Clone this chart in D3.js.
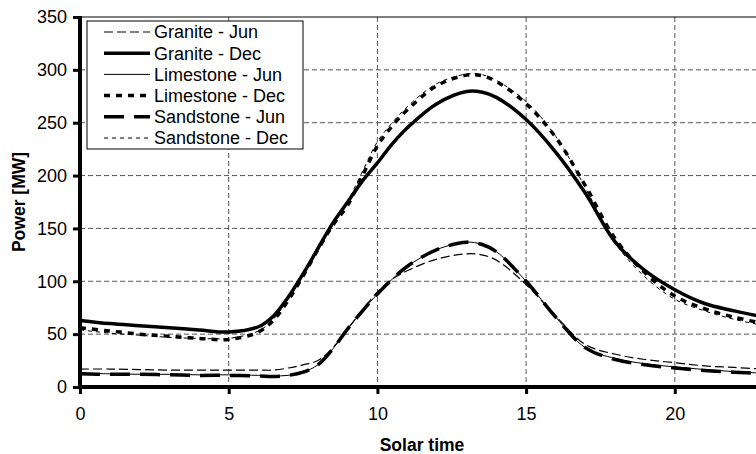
<!DOCTYPE html>
<html>
<head>
<meta charset="utf-8">
<script src="https://cdn.jsdelivr.net/npm/d3@7"></script>
<style>
  body { margin: 0; background: #fff; }
  svg { display: block; font-family: Arial, "Liberation Sans", sans-serif; }
</style>
</head>
<body>
<script>
// solar time (h)
var hours = [0, 1, 2, 3, 4, 5, 6, 6.5, 7, 7.5, 8, 8.5, 9, 9.5, 10, 10.5, 11, 12, 13, 13.5, 14, 15, 16, 17, 18, 19, 20, 21, 22, 23]

// power [MW]
var graniteJun    = [17, 17, 16.5, 16, 16, 16, 16, 16, 18, 21, 25, 37, 55, 73, 90, 102, 110, 121, 126, 125, 120, 97, 67, 40, 31, 26, 23, 20, 18.5, 17]
var graniteDec    = [63, 60, 58, 56, 54, 52, 57, 67, 85, 107, 131, 155, 175, 195, 212, 230, 245, 268, 279.5, 279, 274, 253, 222, 183, 137, 110, 92, 79, 72, 66]
var limestoneJun  = [13, 12.5, 12, 12, 11.5, 11.5, 11, 10.5, 11, 14, 21, 36, 55, 72, 88, 102, 114, 130, 137, 135, 128, 100, 66, 37, 27, 22, 19, 16.5, 14.5, 13]
var limestoneDec  = [56, 53, 50, 48, 46, 45, 52, 63, 82, 105, 130, 153, 172, 200, 228, 247, 262, 285, 295, 294.5, 289, 268, 236, 190, 140, 108, 86, 74, 66, 60]
var sandstoneJun  = [12.5, 12, 12, 11.5, 11, 11, 10.5, 10, 11, 14, 21, 36, 55, 72, 88, 102, 114, 130, 137, 135, 128, 100, 66, 37, 26, 21, 18, 15.5, 14, 12.5]
var sandstoneDec  = [54, 51, 49, 47, 46, 46, 53, 64, 84, 107, 133, 155, 176, 204, 232, 250, 265, 287, 296, 295.5, 290, 270, 237, 188, 136, 104, 83, 72, 64, 58]

var seriesNames = ['Granite - Jun', 'Granite - Dec', 'Limestone - Jun', 'Limestone - Dec', 'Sandstone - Jun', 'Sandstone - Dec']
var seriesValues = [graniteJun, graniteDec, limestoneJun, limestoneDec, sandstoneJun, sandstoneDec]
var seriesStyle = [
  {w: 1.2, dash: '9,4'},
  {w: 3.5, dash: null},
  {w: 1, dash: null},
  {w: 3.5, dash: '6,6'},
  {w: 3.5, dash: '20,10'},
  {w: 1, dash: '4,4'}
]

var xTicks = [0, 5, 10, 15, 20]
var yTicks = [0, 50, 100, 150, 200, 250, 300, 350]

var W = 756, H = 454
var svg = d3.select('body').append('svg')
    .attr('width', W)
    .attr('height', H)

var x = d3.scaleLinear().domain([0, 24]).range([80, 80 + 24 * 29.74])
var y = d3.scaleLinear().domain([0, 350]).range([387, 17])

// grid
var grid = svg.append('g')
grid.selectAll('line.hg')
  .data(yTicks.filter(function(d) { return d > 0 && d < 350 }))
  .enter().append('line')
    .attr('x1', x(0)).attr('x2', W + 10)
    .attr('y1', y).attr('y2', y)
    .attr('stroke', '#555').attr('stroke-width', 1)
    .attr('stroke-dasharray', '5,3')
grid.selectAll('line.vg')
  .data(xTicks.filter(function(d) { return d > 0 }))
  .enter().append('line')
    .attr('x1', x).attr('x2', x)
    .attr('y1', y(350)).attr('y2', y(0))
    .attr('stroke', '#555').attr('stroke-width', 1)
    .attr('stroke-dasharray', '5,3')
svg.append('line')
  .attr('x1', x(0)).attr('x2', W + 10)
  .attr('y1', y(350)).attr('y2', y(350))
  .attr('stroke', '#000').attr('stroke-width', 1.2)

// lines
var line = d3.line()
  .x(function(d, i) { return x(hours[i]) })
  .y(function(d) { return y(d) })
  .curve(d3.curveCatmullRom.alpha(0.5))

svg.append('g').selectAll('path')
  .data(seriesValues)
  .enter().append('path')
    .attr('d', line)
    .attr('fill', 'none')
    .attr('stroke', '#000')
    .attr('stroke-width', function(d, i) { return seriesStyle[i].w })
    .attr('stroke-dasharray', function(d, i) { return seriesStyle[i].dash })

// axes
var yAxis = svg.append('g')
  .attr('transform', 'translate(' + x(0) + ',0)')
  .call(d3.axisLeft(y).tickValues(yTicks).tickSize(7).tickPadding(6))
yAxis.select('.domain').attr('stroke-width', 4).attr('d', 'M0,' + (y(0) + 2) + 'V' + (y(350) - 1))
yAxis.selectAll('.tick line').attr('stroke-width', 3)
yAxis.selectAll('text').attr('font-size', 18).attr('fill', '#000')

var xAxis = svg.append('g')
  .attr('transform', 'translate(0,' + y(0) + ')')
  .call(d3.axisBottom(x).tickValues(xTicks).tickSize(7).tickPadding(13))
xAxis.select('.domain').attr('stroke-width', 4).attr('d', 'M' + (x(0) - 2) + ',0H' + (W + 10))
xAxis.selectAll('.tick line').attr('stroke-width', 3)
xAxis.selectAll('text').attr('font-size', 18).attr('fill', '#000')

svg.append('text')
  .attr('transform', 'translate(25,' + (y(175)) + ') rotate(-90)')
  .attr('text-anchor', 'middle')
  .attr('font-size', 17.5).attr('font-weight', 'bold')
  .text('Power [MW]')

svg.append('text')
  .attr('x', 422).attr('y', 451)
  .attr('text-anchor', 'middle')
  .attr('font-size', 17.5).attr('font-weight', 'bold')
  .text('Solar time')

// legend
var lg = svg.append('g')
lg.append('rect')
  .attr('x', 87).attr('y', 21).attr('width', 216).attr('height', 128)
  .attr('fill', '#fff').attr('stroke', '#000').attr('stroke-width', 1)
var items = lg.selectAll('g.item')
  .data(seriesNames)
  .enter().append('g')
    .attr('transform', function(d, i) { return 'translate(0,' + (32 + i * 21.2) + ')' })
items.append('line')
  .attr('x1', 104).attr('x2', 150)
  .attr('stroke', '#000')
  .attr('stroke-width', function(d, i) { return seriesStyle[i].w })
  .attr('stroke-dasharray', function(d, i) { return seriesStyle[i].dash })
items.append('text')
  .attr('x', 154).attr('dy', '0.35em')
  .attr('font-size', 18)
  .text(function(d) { return d })
</script>
</body>
</html>
